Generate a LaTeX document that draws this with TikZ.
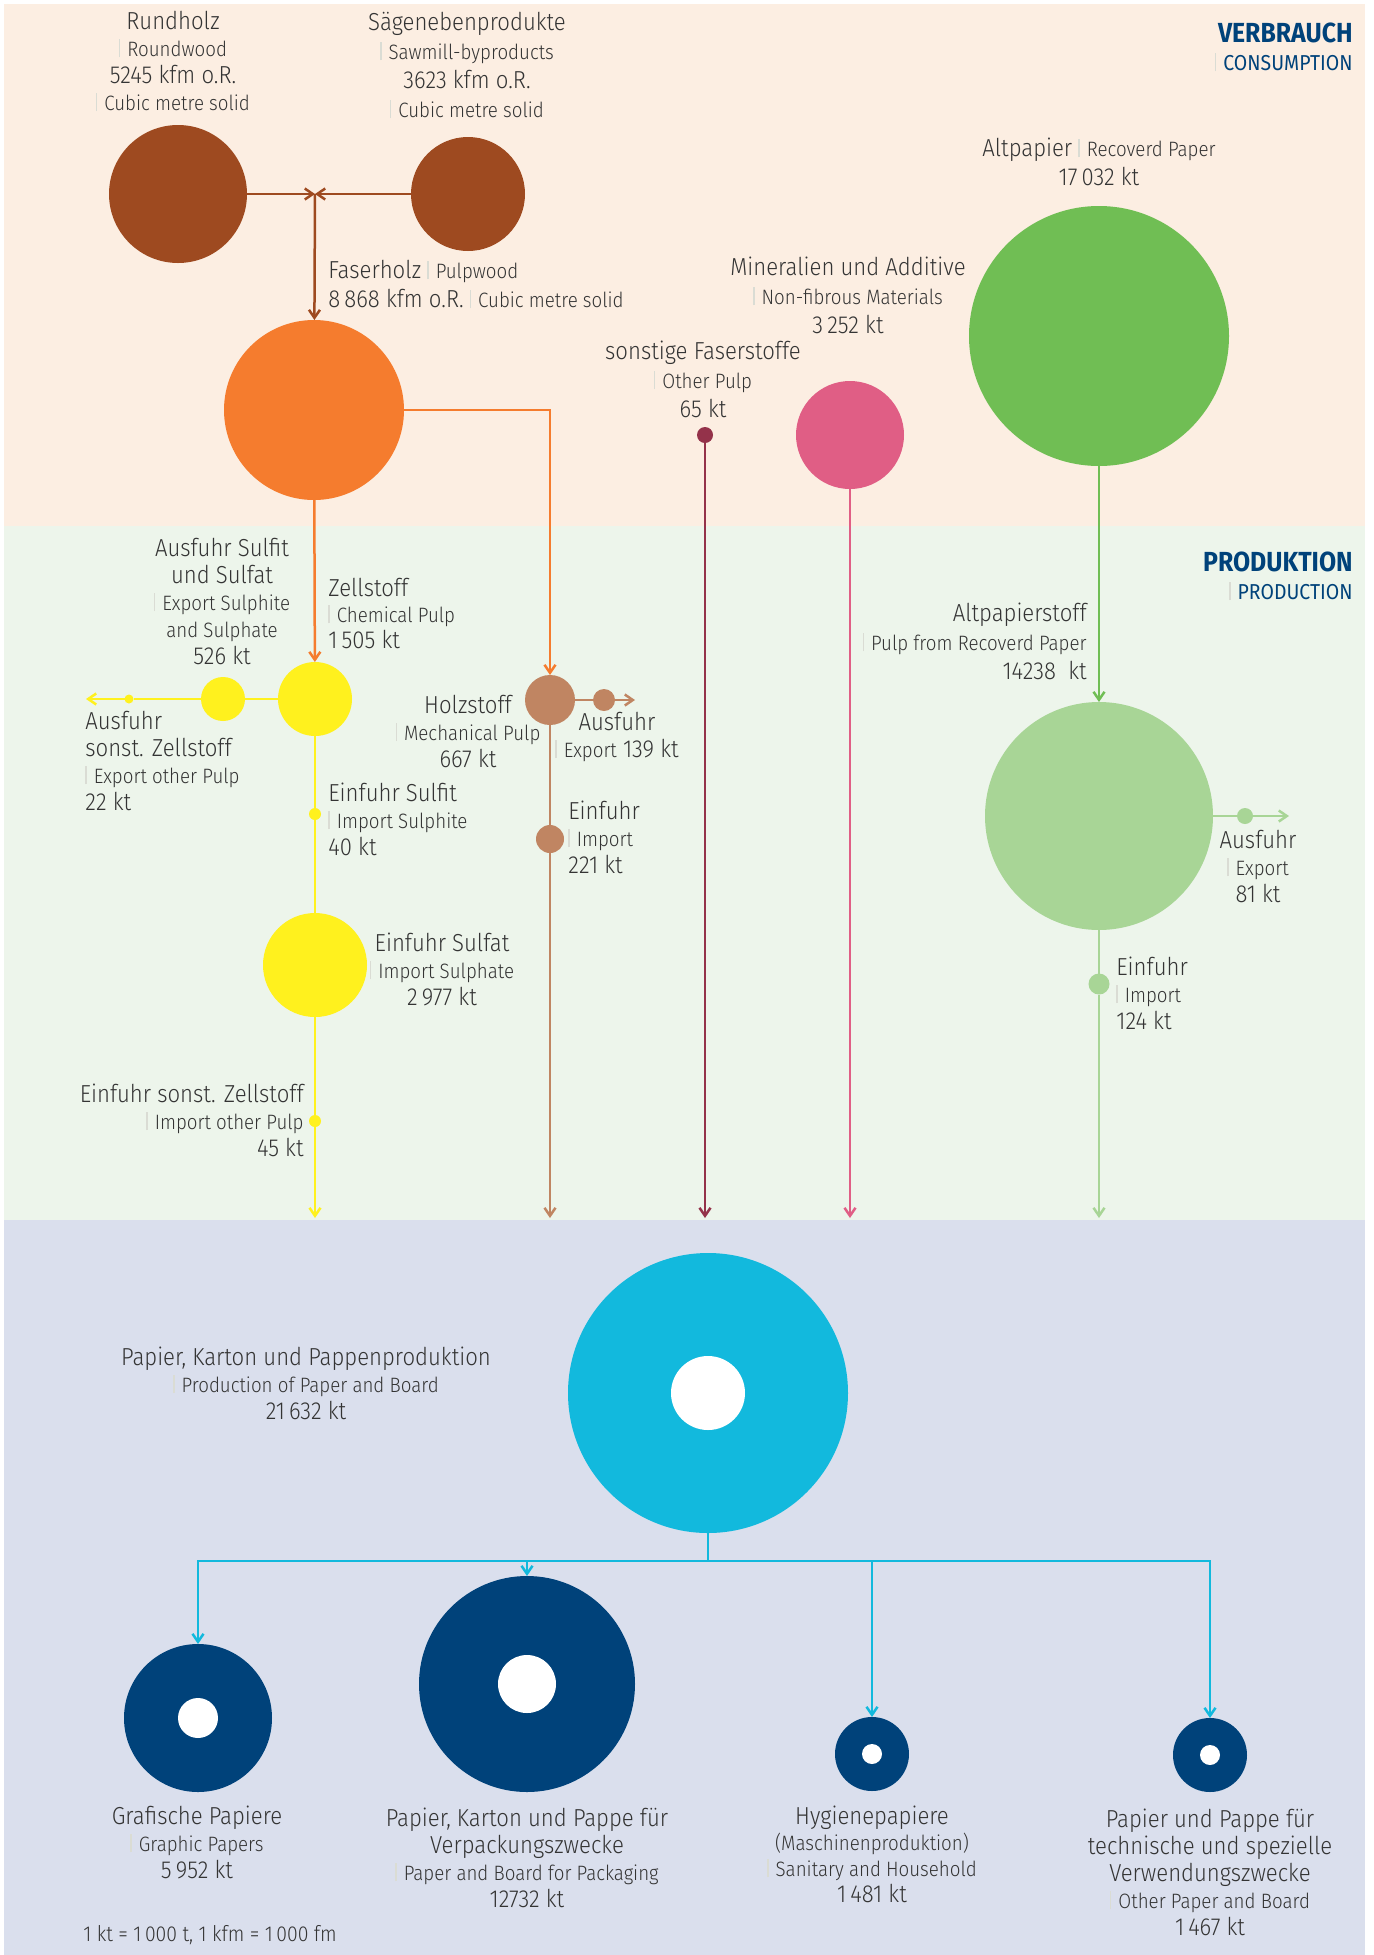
\documentclass[tikz,border=0pt]{standalone}
\usepackage{fontspec}
\setmainfont{Fira Sans Light}[FakeStretch=0.9]
\newfontfamily\titelfont{Fira Sans}[FakeStretch=0.9]
\usetikzlibrary{arrows.meta}

\definecolor{hgbeige}{RGB}{252,238,226}
\definecolor{hggruen}{RGB}{237,245,235}
\definecolor{hgblau}{RGB}{218,223,237}
\definecolor{holzbraun}{RGB}{158,74,32}
\definecolor{faserorange}{RGB}{245,124,46}
\definecolor{zellgelb}{RGB}{255,241,30}
\definecolor{holzstoffbraun}{RGB}{192,133,98}
\definecolor{weinrot}{RGB}{148,50,74}
\definecolor{rosa}{RGB}{224,94,133}
\definecolor{altgruen}{RGB}{112,190,84}
\definecolor{hellgruen}{RGB}{168,213,150}
\definecolor{prodcyan}{RGB}{18,185,221}
\definecolor{papierblau}{RGB}{0,66,122}
\definecolor{textgrau}{RGB}{52,52,52}
\definecolor{trenngrau}{RGB}{218,220,212}

\newcommand{\haupt}{\fontsize{12.3}{13.5}\selectfont}
\newcommand{\klein}{\fontsize{10.4}{13.5}\selectfont}
\newcommand{\trenn}{{\color{trenngrau}\rule[-0.5pt]{0.7pt}{9pt}}\hspace{3.5pt}}

\begin{document}
\begin{tikzpicture}[x=0.5pt,y=0.5pt,yscale=-1,
  kreis/.style={circle,inner sep=0pt,outer sep=0pt,draw=none},
  txt/.style={inner sep=0pt,text=textgrau,font=\haupt,align=center},
  weit/.style={font=\fontsize{12.3}{14.5}\selectfont},
  titel/.style={inner sep=0pt,text=papierblau,align=right,anchor=base east,font=\titelfont\fontsize{13.8}{14}\selectfont},
  linie/.style={line width=1.25pt},
  pfeil/.style={-{Straight Barb[length=4pt,width=5.5pt]}}]
\useasboundingbox (0,0) rectangle (1373,1955);

%Backgrounds
\fill[white] (0,0) rectangle (1373,1955);
\fill[hgbeige] (4,4) rectangle (1365,526);
\fill[hggruen] (4,526) rectangle (1365,1220);
\fill[hgblau] (4,1220) rectangle (1365,1955);

%Circles Verbrauch
\node[kreis,fill=holzbraun,minimum size=69pt] (rundholz) at (178,194) {};
\node[kreis,fill=holzbraun,minimum size=57pt] (saege) at (468,194) {};
\coordinate (faser) at (315,194);
\node[kreis,fill=faserorange,minimum size=90pt] (faserholz) at (314,410) {};
\node[kreis,fill=weinrot,minimum size=8pt] (sonstfaser) at (705,435) {};
\node[kreis,fill=rosa,minimum size=54pt] (mineral) at (850,435) {};
\node[kreis,fill=altgruen,minimum size=130pt] (altpapier) at (1099,336) {};

%Circles Produktion
\node[kreis,fill=zellgelb,minimum size=37pt] (zellstoff) at (315,699) {};
\node[kreis,fill=zellgelb,minimum size=22pt] (aussulfit) at (223,699) {};
\node[kreis,fill=zellgelb,minimum size=4.5pt] (aussonst) at (129,699) {};
\coordinate (aussonstende) at (86,699);
\node[kreis,fill=zellgelb,minimum size=6pt] (einsulfit) at (315,814) {};
\node[kreis,fill=zellgelb,minimum size=52pt] (einsulfat) at (315,965) {};
\node[kreis,fill=zellgelb,minimum size=6pt] (einsonst) at (315,1121) {};
\coordinate (gelbende) at (315,1218);
\node[kreis,fill=holzstoffbraun,minimum size=25pt] (holzstoff) at (550,700) {};
\node[kreis,fill=holzstoffbraun,minimum size=11pt] (holzaus) at (604,700) {};
\coordinate (holzausende) at (635,700);
\node[kreis,fill=holzstoffbraun,minimum size=14pt] (holzein) at (550,839) {};
\coordinate (holzende) at (550,1218);
\coordinate (sonstende) at (705,1218);
\coordinate (mineralende) at (850,1218);
\node[kreis,fill=hellgruen,minimum size=114pt] (altpapierstoff) at (1099,816) {};
\node[kreis,fill=hellgruen,minimum size=8pt] (apaus) at (1245,816) {};
\coordinate (apausende) at (1289,816);
\node[kreis,fill=hellgruen,minimum size=10.5pt] (apein) at (1099,984) {};
\coordinate (apende) at (1099,1218);

%Circles Papier
\node[kreis,fill=prodcyan,minimum size=140pt] (produktion) at (708,1393) {};
\node[kreis,fill=white,minimum size=37pt] (produktioninnen) at (708,1393) {};
\coordinate (verteiler) at (708,1561);
\node[kreis,fill=papierblau,minimum size=74pt] (grafisch) at (198,1718) {};
\node[kreis,fill=white,minimum size=20pt] (grafischinnen) at (198,1718) {};
\node[kreis,fill=papierblau,minimum size=108pt] (verpackung) at (527,1684) {};
\node[kreis,fill=white,minimum size=29pt] (verpackunginnen) at (527,1684) {};
\node[kreis,fill=papierblau,minimum size=37pt] (hygiene) at (872,1754) {};
\node[kreis,fill=white,minimum size=10pt] (hygieneinnen) at (872,1754) {};
\node[kreis,fill=papierblau,minimum size=37pt] (technisch) at (1210,1755) {};
\node[kreis,fill=white,minimum size=10pt] (technischinnen) at (1210,1755) {};

%Straight Lines
\draw[linie,holzbraun,pfeil] (rundholz) -- (faser);
\draw[linie,holzbraun,pfeil] (saege) -- (faser);
\draw[linie,holzbraun,pfeil] (faser) -- (faserholz);
\draw[linie,faserorange,pfeil] (faserholz) -- (zellstoff);
\draw[linie,faserorange,pfeil] (faserholz.east) -| (holzstoff);
\draw[linie,zellgelb,pfeil] (zellstoff) -- (aussulfit) -- (aussonst) -- (aussonstende);
\draw[linie,zellgelb,pfeil] (zellstoff) -- (einsulfit) -- (einsulfat) -- (einsonst) -- (gelbende);
\draw[linie,holzstoffbraun,pfeil] (holzstoff) -- (holzaus) -- (holzausende);
\draw[linie,holzstoffbraun,pfeil] (holzstoff) -- (holzein) -- (holzende);
\draw[linie,weinrot,pfeil] (sonstfaser) -- (sonstende);
\draw[linie,rosa,pfeil] (mineral) -- (mineralende);
\draw[linie,altgruen,pfeil] (altpapier) -- (altpapierstoff);
\draw[linie,hellgruen,pfeil] (altpapierstoff) -- (apaus) -- (apausende);
\draw[linie,hellgruen,pfeil] (altpapierstoff) -- (apein) -- (apende);
\draw[linie,prodcyan] (produktion) -- (verteiler);
\foreach \ziel in {grafisch,verpackung,hygiene,technisch}
  \draw[linie,prodcyan,pfeil] (verteiler) -| (\ziel);

% Text Node
\node[titel] (tverbrauch) at (1353,70) {\bfseries VERBRAUCH\\\trenn{\fontsize{10.8}{14}\selectfont CONSUMPTION}};
\node[titel] (tprodtitel) at (1353,599) {\bfseries PRODUKTION\\\trenn{\fontsize{10.8}{14}\selectfont PRODUCTION}};
% Text Node
\node[txt,anchor=base] (trundholz) at (173,110) {Rundholz\\\trenn{\klein Roundwood}\\5245 kfm o.R.\\\trenn{\klein Cubic metre solid}};
\node[txt,weit,anchor=base] (tsaege) at (467,117) {Sägenebenprodukte\\\trenn{\klein Sawmill-byproducts}\\3623 kfm o.R.\\\trenn{\klein Cubic metre solid}};
\node[txt,weit,anchor=base west,align=left] (tfaserholz) at (328,307) {Faserholz \trenn{\klein Pulpwood}\\8\,868 kfm o.R. \trenn{\klein Cubic metre solid}};
\node[txt,weit,anchor=base] (taltpapier) at (1099,185) {Altpapier \trenn{\klein Recoverd Paper}\\17\,032 kt};
\node[txt,weit,anchor=base] (tmineral) at (848,333) {Mineralien und Additive\\\trenn{\klein Non-fibrous Materials}\\3\,252 kt};
\node[txt,weit,anchor=base] (tsonstfaser) at (703,417) {sonstige Faserstoffe\\\trenn{\klein Other Pulp}\\65 kt};
% Text Node
\node[txt,weit,anchor=base east,align=right] (taltpapierstoff) at (1087,679) {Altpapierstoff\\\trenn{\klein Pulp from Recoverd Paper}\\14238~~kt};
\node[txt,anchor=base] (tapaus) at (1258,902) {Ausfuhr\\\trenn{\klein Export}\\81 kt};
\node[txt,anchor=base west,align=left] (tapein) at (1116,1029) {Einfuhr\\\trenn{\klein Import}\\124 kt};
\node[txt,anchor=base west,align=left,font=\fontsize{12.3}{12.8}\selectfont] (tzellstoff) at (328,648) {Zellstoff\\\trenn{\klein Chemical Pulp}\\1\,505 kt};
\node[txt,anchor=base] (taussulfit) at (222,664) {Ausfuhr Sulfit\\und Sulfat\\\trenn{\klein Export Sulphite}\\{\klein and Sulphate}\\526 kt};
\node[txt,anchor=base west,align=left] (taussonst) at (85,810) {Ausfuhr\\sonst. Zellstoff\\\trenn{\klein Export other Pulp}\\22 kt};
\node[txt,anchor=base] (tholzstoff) at (468,767) {Holzstoff\\\trenn{\klein Mechanical Pulp}\\667 kt};
\node[txt,anchor=base] (tholzaus) at (617,757) {Ausfuhr\\\trenn{\klein Export} 139 kt};
\node[txt,anchor=base west,align=left] (tholzein) at (568,873) {Einfuhr\\\trenn{\klein Import}\\221 kt};
\node[txt,anchor=base west,align=left] (teinsulfit) at (328,855) {Einfuhr Sulfit\\\trenn{\klein Import Sulphite}\\40 kt};
\node[txt,anchor=base] (teinsulfat) at (442,1005) {Einfuhr Sulfat\\\trenn{\klein Import Sulphate}\\2\,977 kt};
\node[txt,anchor=base east,align=right] (teinsonst) at (304,1156) {Einfuhr sonst. Zellstoff\\\trenn{\klein Import other Pulp}\\45 kt};
% Text Node
\node[txt,anchor=base] (tproduktion) at (306,1419) {Papier, Karton und Pappenproduktion\\\trenn{\klein Production of Paper and Board}\\21\,632 kt};
\node[txt,anchor=base] (tgrafisch) at (197,1878) {Grafische Papiere\\\trenn{\klein Graphic Papers}\\5\,952 kt};
\node[txt,anchor=base] (tverpackung) at (527,1907) {Papier, Karton und Pappe für\\Verpackungszwecke\\\trenn{\klein Paper and Board for Packaging}\\12732 kt};
\node[txt,anchor=base,font=\fontsize{12.3}{13}\selectfont] (thygiene) at (872,1902) {Hygienepapiere\\{\klein (Maschinenproduktion)}\\\trenn{\klein Sanitary and Household}\\1\,481 kt};
\node[txt,anchor=base] (ttechnisch) at (1210,1935) {Papier und Pappe für\\technische und spezielle\\Verwendungszwecke\\\trenn{\klein Other Paper and Board}\\1\,467 kt};
\node[txt,anchor=base west,font=\fontsize{10.8}{12}\selectfont] (tfussnote) at (83,1941) {1 kt = 1\,000 t, 1 kfm = 1\,000 fm};
\end{tikzpicture}
\end{document}
